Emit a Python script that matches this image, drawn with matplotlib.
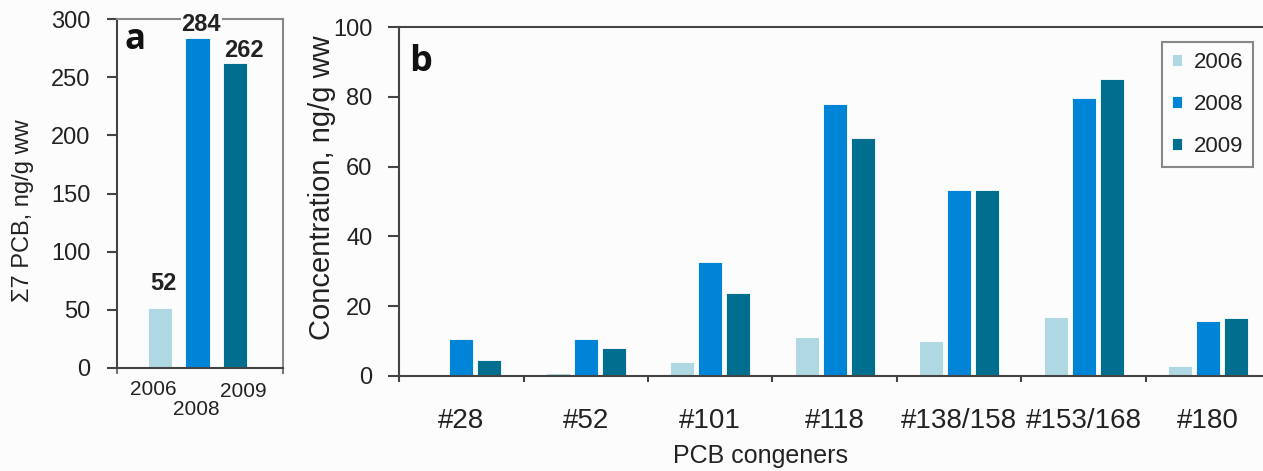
import numpy as np
import matplotlib.pyplot as plt

plt.rcParams['font.family'] = ['Liberation Sans', 'DejaVu Sans']

years = ['2006', '2008', '2009']
total_pcb = [52, 284, 262]

congeners = ['#28', '#52', '#101', '#118', '#138/158', '#153/168', '#180']
conc_2006 = [0, 1.0, 4.1, 11.3, 9.9, 17.0, 2.9]
conc_2008 = [10.5, 10.5, 32.6, 77.8, 53.3, 79.6, 15.8]
conc_2009 = [4.7, 8.1, 23.7, 68.1, 53.3, 85.0, 16.5]

colors = ['#b0d8e2', '#0084d8', '#006e8f']
text_c = '#222222'
W, H = 1263, 471

fig = plt.figure(figsize=(W / 100, H / 100), dpi=100, facecolor='#fcfcfc')

# ---- panel a
axa = fig.add_axes([117 / W, 1 - 368 / H, 166 / W, 349 / H])
axa.set_facecolor('#fcfcfc')
xa = np.arange(len(years))
axa.bar(xa, total_pcb, width=0.66, color=colors, edgecolor='white', linewidth=0.6, zorder=2)
axa.set_xlim(-1.15, 3.28)
axa.set_ylim(0, 300)
axa.set_yticks(range(0, 301, 50))
axa.set_xticks([-1.15, 3.28])
axa.set_xticklabels(['', ''])
axa.tick_params(axis='y', direction='out', length=7, width=1.5, pad=12,
                labelsize=17, colors='#444444', labelcolor=text_c)
axa.tick_params(axis='x', direction='out', length=4, width=1.5, colors='#777777')
for s in ['left', 'bottom']:
    axa.spines[s].set_color('#444444')
    axa.spines[s].set_linewidth(1.5)
for s in ['top', 'right']:
    axa.spines[s].set_color('#888888')
    axa.spines[s].set_linewidth(1.5)
axa.set_ylabel('Σ7 PCB, ng/g ww', fontsize=17, color=text_c)
axa.yaxis.set_label_coords(-0.5, 0.45)

label_dx = [-0.18, -0.03, 0.22]
label_y = [-0.063, -0.12, -0.066]
for i, y in enumerate(years):
    axa.text(xa[i] + label_dx[i], label_y[i], y, transform=axa.get_xaxis_transform(),
             ha='center', va='center', fontsize=15, color=text_c)

value_dx = [0.08, 0.1, 0.24]
value_dy = [9, 1, 1]
for i, v in enumerate(total_pcb):
    t = axa.annotate(str(v), (xa[i] + value_dx[i], v), xytext=(0, value_dy[i]),
                     textcoords='offset points', ha='center', va='bottom', fontsize=17,
                     fontweight='bold', color=text_c, zorder=5, annotation_clip=False)
    if v == max(total_pcb):
        t.set_bbox(dict(facecolor='#fcfcfc', edgecolor='none', pad=0.5))
axa.text(0.11, 0.94, 'a', transform=axa.transAxes, fontsize=25, fontweight='bold',
         family='Open Sans', va='center', ha='center', color='#111111')

# ---- panel b
axb = fig.add_axes([399 / W, 1 - 376 / H, 871.5 / W, 349 / H])
axb.set_facecolor('#fcfcfc')
xb = np.arange(len(congeners)) + 0.5
bw = 0.195
step = 0.225
for k, (vals, yr) in enumerate(zip([conc_2006, conc_2008, conc_2009], years)):
    axb.bar(xb + (k - 1) * step, vals, width=bw, color=colors[k], edgecolor='white',
            linewidth=0.6, label=yr, zorder=2)
axb.set_xlim(0, len(congeners))
axb.set_ylim(0, 100)
axb.set_yticks(range(0, 101, 20))
axb.set_xticks(np.arange(len(congeners) + 1))
axb.set_xticklabels([''] * (len(congeners) + 1))
axb.set_xticks(xb, congeners, minor=True)
axb.tick_params(axis='x', which='minor', length=0, pad=23, labelsize=20, labelcolor=text_c)
axb.tick_params(axis='x', which='major', direction='out', length=4, width=1.5, colors='#444444')
axb.tick_params(axis='y', direction='out', length=8, width=1.5, pad=11,
                labelsize=17, colors='#444444', labelcolor=text_c)
for s in ['left', 'bottom', 'top']:
    axb.spines[s].set_color('#444444')
    axb.spines[s].set_linewidth(1.5)
axb.spines['right'].set_visible(False)
axb.set_ylabel('Concentration, ng/g ww', fontsize=21, color=text_c)
axb.yaxis.set_label_coords(-0.072, 0.54)
axb.set_xlabel('PCB congeners', fontsize=18, color=text_c, va='top')
axb.xaxis.set_label_coords(0.415, -0.195)
axb.text(0.025, 0.9, 'b', transform=axb.transAxes, fontsize=26, fontweight='bold',
         family='Open Sans', va='center', ha='center', color='#111111')

leg = axb.legend(loc='upper right', bbox_to_anchor=(1253 / W, 1 - 42 / H),
                 bbox_transform=fig.transFigure, borderaxespad=0, fontsize=16,
                 handlelength=0.45, handleheight=0.45, handletextpad=0.5,
                 labelspacing=0.95, borderpad=0.45, fancybox=False,
                 edgecolor='#888888', facecolor='#fcfcfc', framealpha=1)
leg.get_frame().set_linewidth(1.5)
for t in leg.get_texts():
    t.set_color(text_c)

fig.savefig('out.png', dpi=100, facecolor=fig.get_facecolor())
